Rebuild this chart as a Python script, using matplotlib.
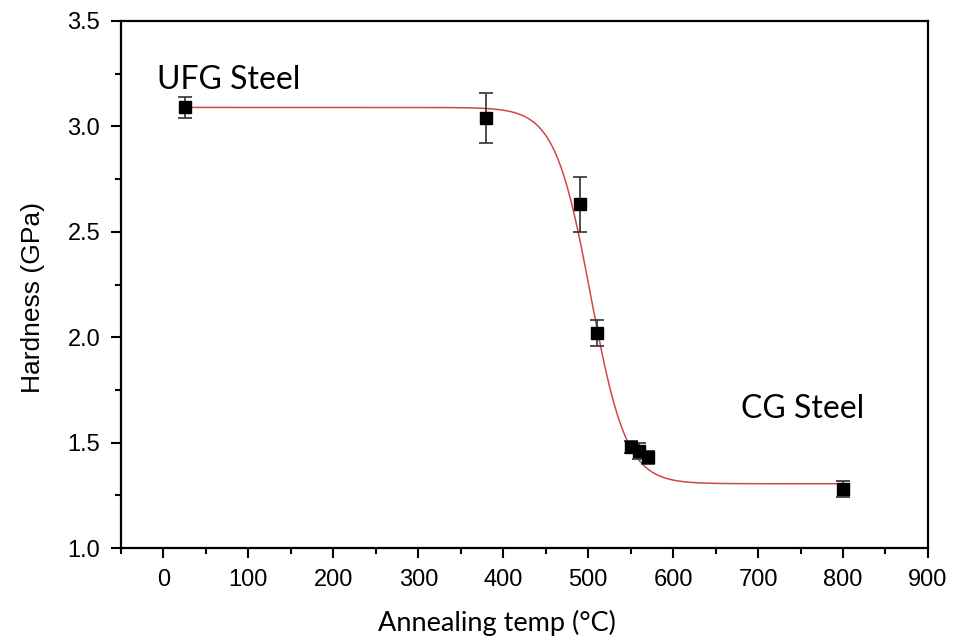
import numpy as np
import matplotlib.pyplot as plt
from matplotlib.ticker import MultipleLocator

# measured hardness vs annealing temperature
temps = [25, 380, 490, 510, 550, 560, 570, 800]
hardness = [3.09, 3.04, 2.63, 2.02, 1.48, 1.46, 1.43, 1.28]
errors = [0.05, 0.12, 0.13, 0.06, 0.03, 0.04, 0.03, 0.04]

# Boltzmann fit parameters
FIT_A1 = 3.09
FIT_A2 = 1.305
FIT_X0 = 503.0
FIT_DX = 21.0


def boltzmann(x):
    return FIT_A2 + (FIT_A1 - FIT_A2) / (1 + np.exp((x - FIT_X0) / FIT_DX))


fig = plt.figure(figsize=(9.54, 6.4), dpi=100)
ax = fig.add_axes([0.1268, 0.1437, 0.8459, 0.8235])

xfit = np.linspace(min(temps), max(temps), 600)
ax.plot(xfit, boltzmann(xfit), color="#d0474b", lw=1.1, zorder=2)

ax.errorbar(temps, hardness, yerr=errors, fmt="s", color="black", ms=9,
            ecolor="#404040", elinewidth=1.3, capsize=5, capthick=1.3, zorder=3)

ax.text(-8, 3.22, "UFG Steel", fontsize=23, family="Lato", ha="left", va="center")
ax.text(680, 1.66, "CG Steel", fontsize=23, family="Lato", ha="left", va="center")

ax.set_xlim(-50, 900)
ax.set_ylim(1.0, 3.5)
ax.xaxis.set_major_locator(MultipleLocator(100))
ax.xaxis.set_minor_locator(MultipleLocator(50))
ax.yaxis.set_major_locator(MultipleLocator(0.5))
ax.yaxis.set_minor_locator(MultipleLocator(0.25))
ax.yaxis.set_major_formatter(plt.FormatStrFormatter("%.1f"))

ax.tick_params(which="both", direction="out", top=False, right=False, width=1.5)
ax.tick_params(which="major", length=7, labelsize=17, pad=8)
ax.tick_params(which="minor", length=4)
for lab in ax.get_xticklabels() + ax.get_yticklabels():
    lab.set_family("Liberation Sans")
for sp in ax.spines.values():
    sp.set_linewidth(1.6)

ax.set_xlabel("Annealing temp (°C)", fontsize=19.5, family="Lato")
ax.set_ylabel("Hardness (GPa)", fontsize=19, family="Liberation Sans")
ax.xaxis.set_label_coords(0.466, -0.117)
ax.yaxis.set_label_coords(-0.094, 0.476)

fig.savefig("out.png", dpi=100)
